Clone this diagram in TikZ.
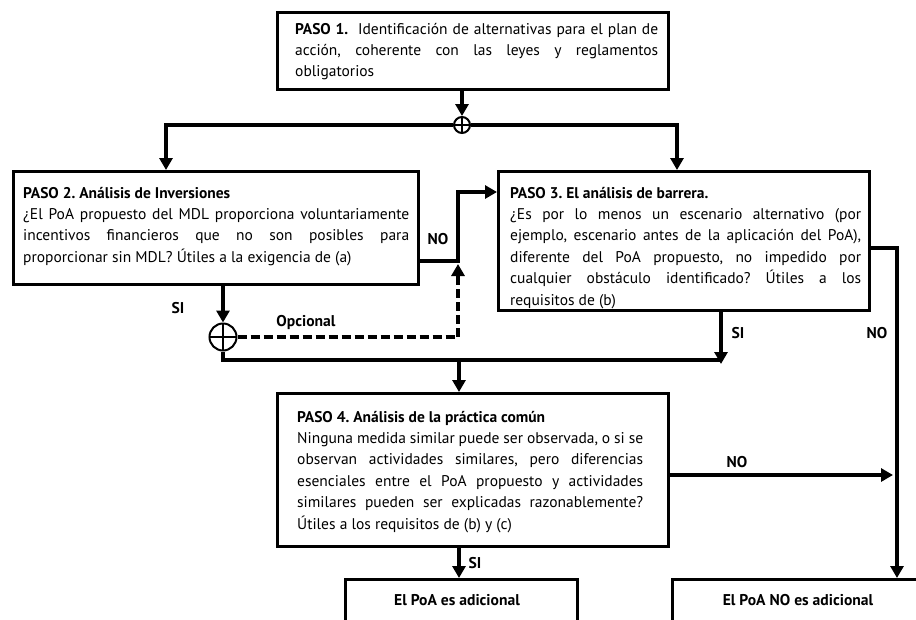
\documentclass[tikz,border=0pt]{standalone}
\usepackage{fontspec}
\setmainfont{PT Sans}
\usetikzlibrary{arrows.meta}
\frenchspacing

\tikzset{
  stepbox/.style={draw, line width=2.5pt, inner sep=0pt, anchor=north west},
  para/.style={anchor=base west, inner sep=0pt, align=justify,
    font=\fontsize{15.5}{21.4}\selectfont,
    execute at begin node={\hyphenpenalty=10000 \tolerance=9999 \emergencystretch=20pt}},
  flow/.style={line width=4.5pt, -{Triangle[length=12pt,width=13pt]}},
  link/.style={line width=4.5pt},
  optflow/.style={line width=4pt, dash pattern=on 9pt off 4pt,
    -{Triangle[length=12pt,width=13pt]}},
  lbl/.style={font=\bfseries\fontsize{15.6}{18}\selectfont, inner sep=0pt},
  junction/.style={circle, draw, fill=white, line width=2pt, inner sep=0pt,
    path picture={
      \draw[line width=2pt] (path picture bounding box.north) -- (path picture bounding box.south);
      \draw[line width=2pt] (path picture bounding box.west) -- (path picture bounding box.east);
    }},
}

\begin{document}
\begin{tikzpicture}[x=1pt, y=-1pt]
\useasboundingbox[fill=white] (0,0) rectangle (916,619);

% step boxes
\node[stepbox, minimum width=391pt, minimum height=77pt]  (b1) at (276,11) {};
\node[stepbox, minimum width=405pt, minimum height=113pt] (b2) at (12,170) {};
\node[stepbox, minimum width=371pt, minimum height=139pt] (b3) at (497,170) {};
\node[stepbox, minimum width=391pt, minimum height=153pt] (b4) at (276,392) {};

% step texts
\node[para, text width=363pt] (t1) at (295,34)
  {\textbf{PASO 1.}\ \ Identificación de alternativas para el plan de\linebreak
   acción, coherente con las leyes y reglamentos\linebreak
   obligatorios};
\node[para, text width=386pt] (t2) at (23,198)
  {\textbf{PASO 2. Análisis de Inversiones}\\
   ¿El PoA propuesto del MDL proporciona voluntariamente\linebreak
   incentivos financieros que no son posibles para\linebreak
   proporcionar sin MDL? Útiles a la exigencia de (a)};
\node[para, text width=351pt] (t3) at (510,198)
  {\textbf{PASO 3. El análisis de barrera.}\\
   ¿Es por lo menos un escenario alternativo (por\linebreak
   ejemplo, escenario antes de la aplicación del PoA),\linebreak
   diferente del PoA propuesto, no impedido por\linebreak
   cualquier obstáculo identificado? Útiles a los\linebreak
   requisitos de (b)};
\node[para, text width=346pt] (t4) at (297,422)
  {\textbf{PASO 4. Análisis de la práctica común}\\
   Ninguna medida similar puede ser observada, o si se\linebreak
   observan actividades similares, pero diferencias\linebreak
   esenciales entre el PoA propuesto y actividades\linebreak
   similares pueden ser explicadas razonablemente?\linebreak
   Útiles a los requisitos de (b) y (c)};

% result boxes, cut by the lower edge
\begin{scope}
  \clip (0,0) rectangle (916,619);
  \node[stepbox, minimum width=232pt, minimum height=60pt] (yes) at (344,578) {};
  \node[stepbox, minimum width=260pt, minimum height=60pt] (no) at (671,578) {};
\end{scope}
\node[lbl] (tyes) at (457,600) {El PoA es adicional};
\node[lbl] (tno) at (798,600) {El PoA NO es adicional};

% junctions
\node[junction, minimum size=16pt] (j1) at (462,125) {};
\node[junction, minimum size=27pt] (j2) at (223,337) {};

% connection points
\coordinate (in2)  at (166,170);
\coordinate (in3)  at (677,170);
\coordinate (out2) at (417,261);
\coordinate (bend) at (458,261);
\coordinate (in3w) at (497,192);
\coordinate (dash) at (458,264);
\coordinate (merge) at (721,360);
\coordinate (down4) at (459,360);
\coordinate (out3) at (868,248);
\coordinate (in5)  at (897,578);
\coordinate (out4) at (667,475);
\coordinate (end4) at (893,475);

% connectors
\draw[flow] (j1 |- b1.south) -- (j1.north);
\draw[flow] (j1.west) -| (in2);
\draw[flow] (j1.east) -| (in3);
\draw[flow] (out2) -- (bend) |- (in3w);
\draw[flow] (j2 |- b2.south) -- (j2.north);
\draw[optflow] (j2.east) -| (dash);
\draw[link] (j2.south) |- (merge);
\draw[flow] (merge |- b3.south) -- ([yshift=-4pt]merge);
\draw[flow] (down4) -- (down4 |- b4.north);
\draw[flow] (out3) -| (in5);
\draw[flow] (out4) -- (end4);
\draw[flow] (b4.south -| down4) -- (yes.north -| down4);

% branch labels
\node[lbl] (lno2) at (438,239) {NO};
\node[lbl] (lopt) at (306,322) {Opcional};
\node[lbl] (lsi2) at (178,308) {SI};
\node[lbl] (lsi3) at (738,333) {SI};
\node[lbl] (lno3) at (877,333) {NO};
\node[lbl] (lno4) at (737,462) {NO};
\node[lbl] (lsi4) at (475,563) {SI};
\end{tikzpicture}
\end{document}
